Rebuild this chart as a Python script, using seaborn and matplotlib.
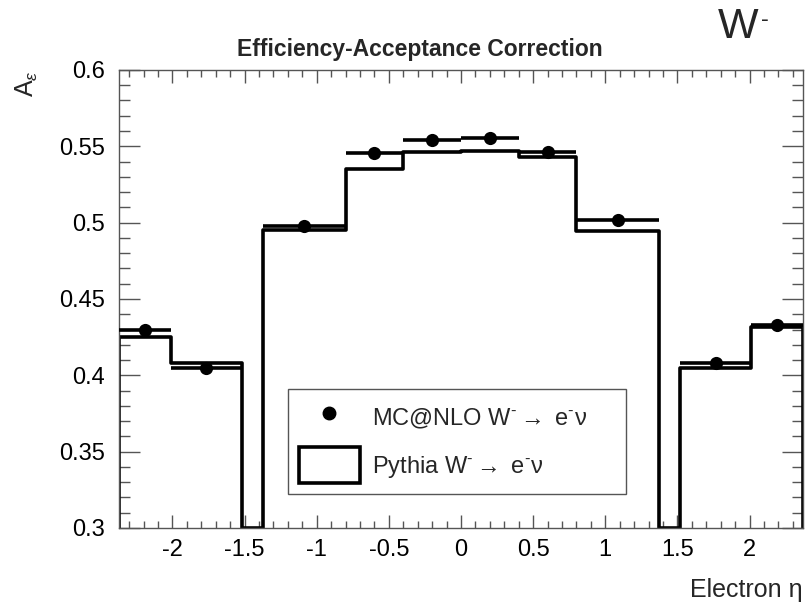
import numpy as np
import pandas as pd
import matplotlib
matplotlib.use("Agg")
import matplotlib.pyplot as plt
from matplotlib.lines import Line2D
from matplotlib.patches import Patch
from matplotlib.ticker import MultipleLocator
import seaborn as sns

# ---- data ----
bin_edges = [-2.37, -2.01, -1.52, -1.37, -0.8, -0.4, 0.0, 0.4, 0.8, 1.37, 1.52, 2.01, 2.37]
mcnlo_vals = [0.430, 0.4046, None, 0.4978, 0.5458, 0.5541, 0.5552, 0.5460, 0.5017, None, 0.4083, 0.4330]
pythia_vals = [0.4253, 0.4079, 0.0, 0.4952, 0.5349, 0.5460, 0.5469, 0.5428, 0.4945, 0.0, 0.4050, 0.4315]

title = "Efficiency-Acceptance Correction"
xlabel = "Electron η"
ylabel = r"A$_{\epsilon}$"
mc_label = "MC@NLO W$^{\u2010}$$\\rightarrow$ e$^{\u2010}$\u03bd"
py_label = "Pythia W$^{\u2010}$$\\rightarrow$ e$^{\u2010}$\u03bd"

sns.set_style("white")
plt.rcParams['font.family'] = ['Liberation Sans', 'DejaVu Sans']
plt.rcParams['mathtext.fontset'] = 'custom'
plt.rcParams['mathtext.rm'] = 'Liberation Sans'
plt.rcParams['mathtext.it'] = 'Liberation Sans:italic'
plt.rcParams['mathtext.sf'] = 'Liberation Sans'

fig = plt.figure(figsize=(8.05, 6.03), dpi=100)
ax = fig.add_axes([0.1478, 0.1244, 0.8497, 0.7596])

ymin, ymax = 0.3, 0.6
edges = np.array(bin_edges)
centers = 0.5 * (edges[:-1] + edges[1:])
halfw = 0.5 * (edges[1:] - edges[:-1])

# Pythia step histogram (clipped to frame like ROOT)
pv = np.clip(np.array(pythia_vals, dtype=float), ymin, ymax)
step_df = pd.DataFrame({"eta": edges, "val": np.append(pv, pv[-1])})
sns.lineplot(data=step_df, x="eta", y="val", drawstyle="steps-post", color="black",
             lw=2.6, estimator=None, sort=False, ax=ax, zorder=2)
ax.plot([edges[0], edges[0]], [ymin, pv[0]], color="black", lw=2.6, zorder=2)
ax.plot([edges[-1], edges[-1]], [ymin, pv[-1]], color="black", lw=2.6, zorder=2)

# MC@NLO points
mask = np.array([v is not None for v in mcnlo_vals])
mv = np.array([v if v is not None else np.nan for v in mcnlo_vals], dtype=float)
mc_df = pd.DataFrame({"eta": centers[mask], "val": mv[mask], "hw": halfw[mask]})
ax.errorbar(mc_df["eta"], mc_df["val"], xerr=mc_df["hw"], fmt="none", ecolor="black",
            elinewidth=2.6, capsize=0, zorder=3)
sns.scatterplot(data=mc_df, x="eta", y="val", color="black", s=90, edgecolor="black",
                linewidth=0, ax=ax, zorder=4)

ax.set_xlim(-2.37, 2.37)
ax.set_ylim(ymin, ymax)

ax.xaxis.set_minor_locator(MultipleLocator(0.1))
ax.yaxis.set_minor_locator(MultipleLocator(0.01))
xt = np.arange(-2, 2.01, 0.5)
yt = np.arange(0.3, 0.601, 0.05)
ax.set_xticks(xt)
ax.set_xticklabels([f"{round(v, 2):g}" for v in xt])
ax.set_yticks(yt)
ax.set_yticklabels([f"{round(v, 2):g}" for v in yt])

spine_col = "#555555"
ax.tick_params(axis="x", which="major", direction="in", length=9.5, width=1, colors=spine_col,
               labelcolor="black", labelsize=17, top=True, bottom=True, pad=8)
ax.tick_params(axis="x", which="minor", direction="in", length=5, width=1, colors=spine_col,
               top=True, bottom=True)
ax.tick_params(axis="y", which="major", direction="in", length=15, width=1, colors=spine_col,
               labelcolor="black", labelsize=17, left=True, right=True, pad=10)
ax.tick_params(axis="y", which="minor", direction="in", length=8, width=1, colors=spine_col,
               left=True, right=True)
for s in ax.spines.values():
    s.set_color(spine_col)
    s.set_linewidth(1)

ax.set_xlabel(xlabel, fontsize=18, ha="right", x=1.0, labelpad=12)
ax.set_ylabel(ylabel, fontsize=18, ha="right", y=1.0, labelpad=14)

fig.text(0.522, 0.918, title, ha="center", va="center", fontsize=16.5, fontweight="bold")
fig.text(0.917, 0.955, "W", ha="center", va="center", fontsize=31)
fig.text(0.950, 0.967, "-", ha="center", va="center", fontsize=17)

handles = [
    Line2D([], [], marker="o", color="black", linestyle="none", markersize=9),
    Patch(facecolor="white", edgecolor="black", linewidth=2.6),
]
leg = ax.legend(handles, [mc_label, py_label], loc="lower left",
                bbox_to_anchor=(0.247, 0.074, 0.494, 0.243),
                mode="expand", fontsize=17, frameon=True, fancybox=False, framealpha=1,
                edgecolor=spine_col, handlelength=2.6, handleheight=2.0, labelspacing=0.45,
                borderpad=0.45, handletextpad=0.5, borderaxespad=0)
leg.get_frame().set_linewidth(1)

fig.savefig("out.png", dpi=100)
